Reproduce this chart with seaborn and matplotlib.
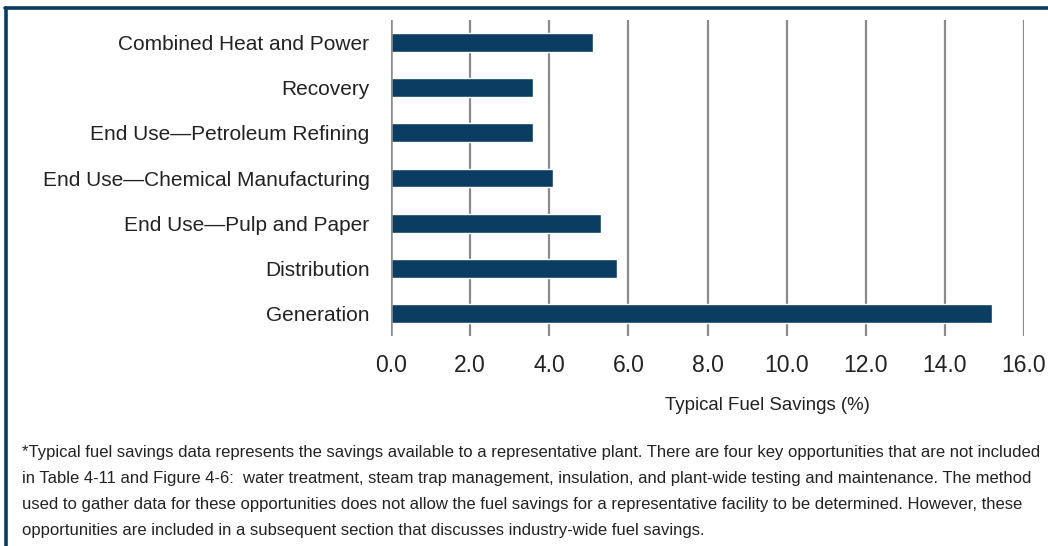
import matplotlib
matplotlib.use("Agg")
import matplotlib.pyplot as plt
import seaborn as sns
import pandas as pd
from matplotlib.lines import Line2D

categories = ["Combined Heat and Power", "Recovery", "End Use\u2014Petroleum Refining",
              "End Use\u2014Chemical Manufacturing", "End Use\u2014Pulp and Paper",
              "Distribution", "Generation"]
savings = [5.1, 3.6, 3.6, 4.1, 5.3, 5.7, 15.2]
xticks = [0, 2, 4, 6, 8, 10, 12, 14, 16]
xlabel = "Typical Fuel Savings (%)"
footnote = [
    "*Typical fuel savings data represents the savings available to a representative plant. There are four key opportunities that are not included",
    "in Table 4-11 and Figure 4-6:  water treatment, steam trap management, insulation, and plant-wide testing and maintenance. The method",
    "used to gather data for these opportunities does not allow the fuel savings for a representative facility to be determined. However, these",
    "opportunities are included in a subsequent section that discusses industry-wide fuel savings.",
]

sns.set_theme(style="white")
fam = ["Liberation Sans", "DejaVu Sans"]
plt.rcParams['font.family'] = fam

BLUE = "#0b3d63"
TXT = "#222222"
df = pd.DataFrame({"cat": categories, "val": savings})

fig = plt.figure(figsize=(10.48, 5.46), dpi=100)
ax = fig.add_axes([391/1048, 1-336/546, (1024-391)/1048, (336-20)/546])
sns.barplot(data=df, y="cat", x="val", color=BLUE, width=0.42, ax=ax, saturation=1, zorder=3)

ax.set_xlim(0, 16)
ax.set_ylim(6.5, -0.5)
ax.set_xticks(xticks)
ax.set_xticklabels([f"{v:.1f}" for v in xticks], fontsize=16.5, color=TXT)
ax.tick_params(axis="x", length=0, pad=13)
ax.tick_params(axis="y", length=0, pad=15.5)
for lab in ax.get_yticklabels():
    lab.set_fontsize(15)
    lab.set_color(TXT)
ax.grid(axis="x", color="#8a8a8a", linewidth=1.6, zorder=0)
ax.set_axisbelow(True)
ax.axvline(0, color="#8a8a8a", linewidth=1.8, zorder=4)
for s in ["top", "right", "bottom", "left"]:
    ax.spines[s].set_visible(False)
ax.set_ylabel("")
ax.set_xlabel(xlabel, fontsize=13.4, color=TXT)
ax.xaxis.set_label_coords((767-391)/(1024-391), -(397-336)/316)
ax.xaxis.get_label().set_va("top")

# frame
fig.add_artist(Line2D([5/1048, 1.0], [1-8/546, 1-8/546], color=BLUE, linewidth=2.6, transform=fig.transFigure))
fig.add_artist(Line2D([6/1048, 6/1048], [1-8/546, 0.0], color=BLUE, linewidth=2.6, transform=fig.transFigure))

ys = [453, 479, 505, 531]
for y, line in zip(ys, footnote):
    fig.text(22/1048, 1-y/546, line, fontsize=12.0, color=TXT, va="center", ha="left")

fig.savefig("out.png", dpi=100)
